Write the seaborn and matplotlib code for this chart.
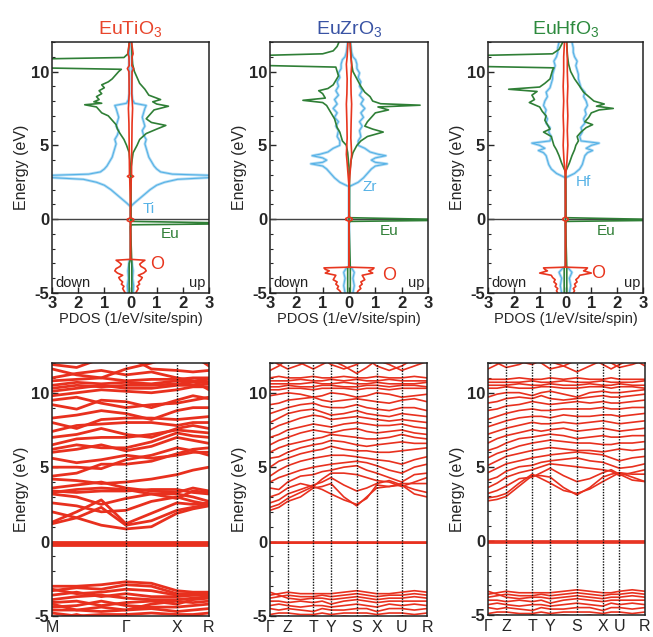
import numpy as np
import pandas as pd
import matplotlib.pyplot as plt
import seaborn as sns
from matplotlib.ticker import MultipleLocator

sns.set_theme(style="ticks")
plt.rcParams['font.family'] = ['Liberation Sans', 'DejaVu Sans']
plt.rcParams['mathtext.default'] = 'regular'
plt.rcParams['axes.unicode_minus'] = False

RED = '#e8361f'
GREEN = '#2f7f36'
BLUE = '#56b2e6'
BLUE_HALO = '#b3dcf4'
BAND_RED = '#e8301e'

titles = ['EuTiO$_3$', 'EuZrO$_3$', 'EuHfO$_3$']
title_colors = ['#e8452c', '#3953a4', '#2d8a3e']
metal_names = ['Ti', 'Zr', 'Hf']

# ---------------- PDOS (top row), widths in 1/eV/site/spin ----------------
# EuTiO3
ti_E = [-5.0, -4.5, -4.0, -3.5, -3.0, -2.8, -2.7, 0.85, 1.1, 1.4, 1.7, 2.0, 2.3, 2.5, 2.7, 2.85,
        2.95, 3.05, 3.2, 3.4, 3.6, 3.9, 4.2, 4.5, 4.8, 5.1, 5.4, 5.7, 6.0, 6.3, 6.6, 6.9, 7.2,
        7.5, 7.7, 7.85, 8.1, 8.5, 9.5, 10.5, 11.5, 12.0]
ti_w = [0.1, 0.12, 0.08, 0.1, 0.06, 0.05, 0.0, 0.0, 0.15, 0.35, 0.55, 0.75, 1.0, 1.3, 1.8, 3.4,
        3.4, 1.6, 1.15, 1.0, 0.9, 0.8, 0.7, 0.65, 0.6, 0.55, 0.6, 0.5, 0.45, 0.55, 0.5, 0.45, 0.5,
        0.55, 0.6, 0.15, 0.08, 0.05, 0.04, 0.06, 0.04, 0.03]
eut_dn_E = [-5.0, -3.0, -2.7, 3.5, 4.5, 5.0, 5.4, 5.8, 6.1, 6.4, 6.7, 7.0, 7.2, 7.4, 7.6, 7.75,
            7.85, 7.95, 8.1, 8.3, 8.5, 8.7, 8.9, 9.1, 9.3, 9.5, 9.8, 10.0, 10.15, 10.25, 10.85,
            10.95, 11.2, 11.6, 12.0]
eut_dn_w = [0.05, 0.05, 0.0, 0.0, 0.05, 0.15, 0.25, 0.4, 0.5, 0.55, 0.7, 0.85, 1.1, 1.2, 1.3, 1.75,
            1.1, 1.4, 1.2, 1.3, 1.1, 1.2, 1.0, 1.1, 0.85, 0.7, 0.55, 0.45, 0.35, 3.5, 3.5,
            0.25, 0.1, 0.07, 0.05]
eut_up_E = [-5.0, -3.0, -0.5, -0.38, -0.32, -0.25, -0.15, 0.2, 3.5, 4.5, 5.0, 5.4, 5.8, 6.1, 6.35,
            6.55, 6.8, 7.1, 7.4, 7.65, 7.8, 7.95, 8.1, 8.4, 8.8, 9.2, 9.6, 10.0, 10.5, 11.0, 11.5, 12.0]
eut_up_w = [0.05, 0.05, 0.0, 0.05, 3.5, 3.5, 0.05, 0.02, 0.02, 0.1, 0.25, 0.35, 0.6, 1.0, 1.35,
            0.8, 0.6, 0.75, 0.9, 1.45, 1.0, 0.85, 1.15, 0.7, 0.55, 0.35, 0.25, 0.15, 0.08, 0.06, 0.05, 0.04]
ot_E = [-5.0, -4.85, -4.7, -4.55, -4.4, -4.25, -4.1, -3.95, -3.8, -3.65, -3.5, -3.35, -3.2, -3.05,
        -2.9, -2.78, -2.72, -0.2, -0.1, 0.0, 0.1, 0.9, 2.8, 2.9, 3.0, 3.3, 5.0, 6.5, 7.5, 8.5, 10.0,
        10.2, 10.4, 11.0, 11.2, 12.0]
ot_w = [0.2, 0.25, 0.3, 0.25, 0.35, 0.3, 0.4, 0.45, 0.3, 0.5, 0.6, 0.55, 0.4, 0.35, 0.45, 0.55,
        0.0, 0.0, 0.12, 0.12, 0.0, 0.0, 0.03, 0.12, 0.04, 0.04, 0.05, 0.06, 0.08, 0.05, 0.06, 0.12,
        0.05, 0.06, 0.1, 0.04]

# EuZrO3
zr_E = [-5.0, -4.5, -4.0, -3.6, -3.3, -3.2, 2.2, 2.5, 2.8, 3.1, 3.4, 3.6, 3.75, 3.85, 4.0, 4.15,
        4.3, 4.4, 4.55, 4.8, 5.0, 5.3, 5.6, 6.0, 6.3, 6.6, 6.9, 7.2, 7.5, 7.8, 8.1, 8.4, 8.7, 9.0,
        9.3, 9.6, 9.9, 10.2, 10.5, 10.8, 11.0, 11.3, 12.0]
zr_w = [0.15, 0.2, 0.15, 0.2, 0.1, 0.0, 0.0, 0.35, 0.55, 0.7, 0.85, 1.0, 1.45, 1.0, 0.85, 1.0,
        1.4, 1.1, 0.8, 0.6, 0.35, 0.35, 0.45, 0.4, 0.5, 0.4, 0.55, 0.45, 0.6, 0.45, 0.55, 0.4, 0.5,
        0.4, 0.45, 0.35, 0.4, 0.3, 0.3, 0.25, 0.15, 0.1, 0.05]
euz_dn_E = [-5.0, -3.3, -3.2, 3.5, 4.5, 5.0, 5.3, 5.6, 5.9, 6.2, 6.5, 6.8, 7.1, 7.4, 7.7, 7.9,
            8.05, 8.2, 8.5, 8.7, 8.85, 9.1, 9.4, 9.7, 10.0, 10.3, 10.42, 11.08, 11.2, 11.4, 11.7, 12.0]
euz_dn_w = [0.05, 0.05, 0.0, 0.0, 0.05, 0.1, 0.25, 0.3, 0.35, 0.45, 0.5, 0.55, 0.65, 0.75, 0.85,
            1.0, 1.75, 0.9, 1.0, 1.15, 0.8, 0.6, 0.5, 0.4, 0.45, 0.5, 3.5, 3.5, 1.0, 0.6, 0.45, 0.38]
euz_up_E = [-5.0, -3.3, -0.25, -0.15, -0.08, -0.02, 0.1, 3.0, 4.0, 4.5, 5.0, 5.3, 5.6, 5.9, 6.1,
            6.3, 6.6, 6.9, 7.2, 7.4, 7.6, 7.72, 7.82, 8.0, 8.3, 8.6, 9.0, 9.5, 10.0, 10.5, 11.0, 11.5, 12.0]
euz_up_w = [0.05, 0.05, 0.0, 0.05, 3.5, 3.5, 0.02, 0.02, 0.08, 0.15, 0.3, 0.45, 0.7, 1.3, 0.9,
            0.6, 0.7, 0.85, 1.0, 1.5, 1.1, 2.7, 1.2, 0.9, 0.8, 0.6, 0.45, 0.3, 0.15, 0.1, 0.08, 0.06, 0.05]
oz_E = [-5.0, -4.85, -4.7, -4.55, -4.4, -4.25, -4.1, -3.95, -3.8, -3.65, -3.5, -3.4, -3.3, -3.25,
        -0.15, -0.05, 0.05, 0.15, 2.2, 3.8, 4.4, 5.5, 6.5, 7.8, 8.5, 9.5, 10.5, 11.0, 12.0]
oz_w = [0.3, 0.35, 0.45, 0.4, 0.5, 0.45, 0.6, 0.55, 0.5, 0.9, 0.75, 0.9, 0.95, 0.0, 0.0, 0.12,
        0.12, 0.0, 0.0, 0.07, 0.1, 0.07, 0.08, 0.1, 0.08, 0.07, 0.1, 0.07, 0.04]

# EuHfO3
hf_E = [-5.0, -4.5, -4.0, -3.6, -3.3, -3.2, 2.8, 3.1, 3.4, 3.7, 4.0, 4.3, 4.5, 4.65, 4.8, 5.0,
        5.15, 5.3, 5.6, 5.9, 6.2, 6.5, 6.8, 7.1, 7.4, 7.7, 8.0, 8.3, 8.6, 8.9, 9.2, 9.5, 9.8, 10.1,
        10.4, 10.7, 11.0, 11.3, 11.6, 12.0]
hf_w = [0.15, 0.2, 0.15, 0.25, 0.1, 0.0, 0.0, 0.35, 0.55, 0.65, 0.7, 0.75, 0.85, 1.05, 0.8, 1.0,
        1.3, 0.6, 0.55, 0.65, 0.6, 0.75, 0.7, 0.8, 0.75, 0.85, 0.8, 0.7, 0.75, 0.6, 0.55, 0.5, 0.5,
        0.45, 0.4, 0.45, 0.35, 0.3, 0.3, 0.25]
euh_dn_E = [-5.0, -3.3, -3.2, 3.2, 3.8, 4.3, 4.7, 5.0, 5.3, 5.6, 5.9, 6.1, 6.4, 6.7, 7.0, 7.3, 7.6,
            7.9, 8.1, 8.4, 8.65, 8.8, 8.95, 9.2, 9.5, 9.8, 10.1, 10.25, 10.35, 11.08, 11.2, 11.5, 12.0]
euh_dn_w = [0.05, 0.05, 0.0, 0.0, 0.15, 0.25, 0.35, 0.45, 0.5, 0.55, 0.85, 0.6, 0.7, 0.8, 0.75,
            0.9, 1.0, 1.4, 1.2, 1.3, 1.1, 2.2, 1.0, 0.8, 0.6, 0.55, 0.5, 0.45, 3.5, 3.5, 0.5, 0.25, 0.1]
euh_up_E = [-5.0, -3.3, -0.25, -0.15, -0.08, -0.02, 0.1, 3.2, 3.8, 4.3, 4.7, 5.0, 5.3, 5.6, 5.9,
            6.2, 6.4, 6.6, 6.9, 7.2, 7.4, 7.5, 7.65, 7.8, 8.0, 8.3, 8.6, 9.0, 9.5, 10.0, 10.5, 11.0, 11.5, 12.0]
euh_up_w = [0.05, 0.05, 0.0, 0.05, 3.5, 3.5, 0.02, 0.0, 0.15, 0.25, 0.35, 0.4, 0.5, 0.45, 0.6,
            0.8, 1.05, 0.75, 0.9, 1.0, 1.3, 1.85, 1.2, 1.5, 1.1, 0.9, 0.7, 0.55, 0.35, 0.2, 0.12, 0.08, 0.06, 0.05]
oh_E = [-5.0, -4.85, -4.7, -4.55, -4.4, -4.25, -4.1, -3.95, -3.8, -3.65, -3.5, -3.4, -3.3, -3.25,
        -0.15, -0.05, 0.05, 0.15, 2.8, 4.0, 5.0, 6.0, 7.0, 8.0, 9.0, 10.0, 11.0, 12.0]
oh_w = [0.3, 0.35, 0.3, 0.4, 0.35, 0.45, 0.4, 0.5, 0.55, 1.0, 0.7, 0.8, 0.85, 0.0, 0.0, 0.1,
        0.1, 0.0, 0.0, 0.06, 0.09, 0.07, 0.09, 0.07, 0.09, 0.07, 0.07, 0.04]

# label positions (x in PDOS units, E in eV)
metal_label_xy = [(0.45, 0.7), (0.5, 2.2), (0.4, 2.5)]
eu_label_xy = [(1.15, -1.0), (1.15, -0.8), (1.2, -0.8)]
o_label_xy = [(0.75, -3.1), (1.25, -3.8), (1.0, -3.7)]

# ---------------- band structures (bottom row) ----------------
ti_kpts = [0, 1.45, 2.45, 3.08]
ti_klabels = ['M', 'Γ', 'X', 'R']
ti_ksub = [3, 2, 2]
# values at M, 1/3, 2/3, Γ, mid, X, mid, R
ti_bands = [
    [2.0, 1.6, 1.1, 0.85, 1.0, 1.9, 2.2, 2.4],
    [1.2, 1.6, 2.3, 1.1, 1.4, 2.1, 2.3, 2.5],
    [1.3, 2.0, 2.8, 1.2, 1.9, 2.6, 2.5, 2.6],
    [2.6, 2.4, 2.0, 2.1, 2.7, 3.0, 2.7, 2.5],
    [3.2, 3.0, 2.5, 2.9, 3.2, 3.2, 3.0, 2.7],
    [3.4, 3.3, 3.4, 3.4, 3.5, 3.5, 3.3, 3.2],
    [3.3, 3.5, 3.6, 3.5, 3.2, 2.9, 3.4, 3.3],
    [3.6, 3.8, 4.0, 3.6, 3.4, 3.3, 3.6, 3.4],
    [4.2, 4.1, 3.9, 4.0, 4.2, 4.5, 4.8, 5.0],
    [4.4, 4.6, 5.2, 5.2, 5.4, 5.9, 6.2, 6.3],
    [5.0, 5.0, 4.9, 5.5, 5.8, 6.3, 6.1, 5.8],
    [5.6, 5.3, 5.5, 5.8, 5.6, 5.8, 6.0, 6.0],
    [6.0, 6.2, 6.5, 6.1, 6.4, 7.0, 6.8, 6.6],
    [6.2, 6.5, 6.3, 6.3, 6.7, 7.3, 7.1, 7.0],
    [6.5, 6.9, 7.0, 7.0, 7.2, 7.5, 7.4, 7.3],
    [7.0, 7.2, 7.6, 7.2, 7.0, 7.6, 7.8, 7.6],
    [7.4, 7.8, 7.9, 8.0, 8.0, 7.8, 8.0, 8.0],
    [8.0, 7.6, 8.2, 8.3, 8.3, 8.2, 8.3, 8.4],
    [8.3, 8.5, 8.8, 8.6, 8.2, 8.8, 9.0, 9.0],
    [9.5, 9.7, 9.3, 9.0, 9.2, 9.3, 9.5, 9.7],
    [9.2, 8.9, 9.5, 9.4, 9.0, 9.5, 9.8, 9.6],
    [9.8, 10.0, 10.2, 10.1, 10.0, 10.2, 10.4, 10.4],
    [10.1, 10.3, 10.5, 10.3, 10.3, 10.5, 10.5, 10.6],
    [10.3, 10.5, 10.4, 10.5, 10.5, 10.6, 10.7, 10.7],
    [10.5, 10.7, 10.6, 10.7, 10.6, 10.8, 10.8, 10.9],
    [10.8, 10.9, 11.0, 10.8, 10.9, 10.9, 11.0, 11.0],
    [11.0, 11.3, 11.5, 11.2, 11.4, 11.0, 10.8, 10.2],
    [11.6, 11.2, 11.0, 11.6, 12.0, 12.5, 12.5, 11.8],
    [11.9, 11.7, 12.3, 12.5, 11.6, 11.5, 11.4, 11.5],
    [-3.0, -3.0, -2.9, -2.7, -2.8, -3.3, -3.4, -3.4],
    [-3.3, -3.1, -3.2, -2.9, -3.0, -3.5, -3.5, -3.5],
    [-3.2, -3.5, -3.4, -3.2, -3.3, -3.6, -3.6, -3.5],
    [-3.6, -3.4, -3.7, -3.5, -3.7, -3.7, -3.6, -3.6],
    [-3.9, -3.7, -3.6, -3.8, -3.9, -3.9, -3.8, -3.7],
    [-4.1, -4.0, -4.3, -4.1, -4.0, -4.2, -3.9, -3.8],
    [-4.4, -4.3, -4.0, -4.3, -4.4, -4.4, -4.3, -4.2],
    [-4.2, -4.6, -4.4, -4.6, -4.2, -4.0, -4.1, -4.0],
    [-4.6, -4.6, -4.7, -4.6, -4.5, -4.7, -4.6, -4.5],
    [-4.8, -5.0, -4.9, -4.9, -4.8, -4.9, -4.9, -4.8],
    [-5.2, -4.9, -5.3, -5.3, -5.1, -5.2, -5.0, -5.1],
]
ti_f_levels = [-0.03, -0.09, -0.15, -0.21]

ortho_klabels = ['Γ', 'Z', 'T', 'Y', 'S', 'X', 'U', 'R']
ortho_ksub = [2, 2, 2, 2, 2, 2, 2]
zr_kpts = [0, 17.7, 43.3, 61.0, 86.7, 106.7, 131.7, 157.0]
# values at Γ, ., Z, ., T, ., Y, ., S, ., X, ., U, ., R
zr_bands = [
    [2.1, 2.3, 2.7, 3.0, 3.6, 3.7, 3.9, 3.0, 2.4, 3.0, 3.6, 3.7, 3.8, 3.5, 3.3],
    [2.3, 2.5, 2.9, 3.3, 3.7, 3.5, 3.2, 2.8, 2.5, 2.9, 3.8, 3.7, 3.9, 3.9, 3.9],
    [2.6, 2.8, 3.2, 3.5, 3.8, 4.0, 4.3, 3.8, 3.4, 3.6, 3.9, 4.1, 3.8, 3.2, 3.0],
    [3.0, 3.2, 3.6, 3.9, 3.7, 4.2, 4.6, 4.6, 4.5, 4.3, 4.1, 4.0, 3.7, 4.0, 4.3],
    [3.6, 3.5, 4.0, 4.4, 4.5, 4.7, 4.8, 5.0, 5.1, 4.8, 4.6, 4.3, 4.0, 4.5, 4.6],
    [4.0, 4.3, 4.5, 4.8, 5.0, 5.1, 5.2, 5.3, 5.4, 5.3, 5.1, 4.8, 4.6, 5.0, 5.2],
    [4.4, 4.8, 5.1, 5.4, 5.6, 5.7, 5.8, 5.8, 5.7, 5.6, 5.5, 5.4, 5.2, 5.5, 5.7],
    [5.0, 5.4, 5.6, 5.9, 6.1, 6.2, 6.4, 6.2, 6.1, 6.1, 6.0, 6.0, 6.1, 6.2, 6.3],
    [5.6, 5.7, 6.0, 6.3, 6.5, 6.6, 6.8, 6.7, 6.5, 6.4, 6.5, 6.6, 6.7, 6.6, 6.6],
    [6.0, 6.3, 6.5, 6.7, 6.9, 7.0, 7.2, 7.1, 7.0, 6.9, 6.9, 7.0, 7.2, 7.0, 6.9],
    [6.5, 6.8, 7.0, 7.3, 7.5, 7.4, 7.3, 7.5, 7.6, 7.4, 7.3, 7.4, 7.5, 7.3, 7.2],
    [7.0, 7.2, 7.5, 7.7, 7.9, 7.8, 7.7, 7.9, 8.0, 7.9, 7.8, 7.8, 7.9, 7.7, 7.6],
    [7.5, 7.8, 8.0, 8.3, 8.5, 8.4, 8.2, 8.3, 8.4, 8.3, 8.2, 8.1, 8.2, 8.1, 8.0],
    [8.0, 8.3, 8.6, 8.8, 8.9, 8.7, 8.5, 8.6, 8.8, 8.6, 8.5, 8.4, 8.6, 8.5, 8.4],
    [8.6, 8.8, 9.0, 9.2, 9.3, 9.1, 9.0, 9.0, 9.2, 9.0, 8.9, 8.8, 9.0, 9.0, 8.8],
    [9.2, 9.3, 9.5, 9.6, 9.7, 9.5, 9.4, 9.5, 9.6, 9.5, 9.4, 9.3, 9.5, 9.6, 9.4],
    [9.8, 9.9, 10.0, 9.9, 9.7, 9.8, 10.0, 9.9, 9.7, 9.8, 10.0, 9.9, 9.7, 9.8, 9.9],
    [10.2, 10.2, 10.3, 10.3, 10.2, 10.3, 10.3, 10.3, 10.2, 10.3, 10.3, 10.2, 10.3, 10.3, 10.3],
    [10.4, 10.4, 10.5, 10.4, 10.4, 10.5, 10.5, 10.4, 10.4, 10.5, 10.5, 10.4, 10.5, 10.5, 10.4],
    [10.6, 10.6, 10.6, 10.6, 10.7, 10.6, 10.6, 10.7, 10.6, 10.6, 10.7, 10.6, 10.6, 10.6, 10.7],
    [10.8, 10.8, 10.8, 10.9, 10.8, 10.8, 10.9, 10.8, 10.9, 10.8, 10.8, 10.9, 10.8, 10.8, 10.8],
    [11.0, 11.1, 11.0, 11.0, 11.1, 11.0, 11.0, 11.1, 11.0, 11.0, 11.1, 11.0, 11.0, 11.1, 11.0],
    [11.5, 11.8, 12.3, 12.0, 11.6, 11.9, 12.2, 11.8, 11.3, 11.7, 12.2, 11.9, 11.5, 11.8, 12.1],
    [12.2, 11.9, 11.6, 11.9, 12.4, 12.3, 11.9, 11.6, 11.9, 12.3, 11.8, 11.5, 11.8, 12.3, 12.5],
    [-3.6, -3.5, -3.4, -3.5, -3.5, -3.5, -3.5, -3.4, -3.3, -3.4, -3.5, -3.5, -3.4, -3.3, -3.4],
    [-3.8, -3.7, -3.6, -3.7, -3.7, -3.6, -3.7, -3.6, -3.5, -3.6, -3.7, -3.6, -3.6, -3.5, -3.6],
    [-3.4, -3.6, -3.8, -3.9, -3.8, -3.8, -3.9, -3.8, -3.7, -3.8, -3.9, -3.8, -3.8, -3.7, -3.8],
    [-4.0, -4.0, -4.1, -4.0, -4.1, -4.0, -4.2, -4.0, -3.9, -4.0, -4.1, -4.0, -4.0, -4.0, -4.0],
    [-4.3, -4.2, -4.3, -4.4, -4.3, -4.3, -4.4, -4.3, -4.2, -4.3, -4.4, -4.2, -4.3, -4.2, -4.3],
    [-4.5, -4.6, -4.5, -4.6, -4.7, -4.5, -4.6, -4.6, -4.5, -4.5, -4.7, -4.5, -4.5, -4.6, -4.5],
    [-4.9, -4.8, -4.8, -4.9, -4.9, -4.8, -4.9, -4.8, -4.8, -4.8, -4.9, -4.8, -4.8, -4.9, -4.8],
    [-5.2, -5.0, -5.1, -5.2, -5.0, -5.1, -5.2, -5.0, -5.1, -5.0, -5.2, -5.1, -5.0, -5.1, -5.2],
]
zr_f_levels = [-0.02, -0.07, -0.12]

hf_kpts = [0, 18.3, 44.3, 62.3, 89.0, 115.0, 131.7, 157.3]
hf_bands = [
    [2.7, 2.8, 3.0, 3.7, 4.4, 4.4, 4.3, 3.6, 3.1, 3.6, 4.3, 4.5, 4.6, 4.3, 4.0],
    [2.9, 3.0, 3.2, 3.9, 4.5, 4.2, 3.9, 3.4, 3.2, 3.5, 4.0, 4.3, 4.6, 4.5, 4.5],
    [3.2, 3.4, 3.7, 4.2, 4.3, 4.6, 4.9, 4.4, 4.0, 4.2, 4.6, 4.8, 4.5, 4.1, 4.0],
    [3.6, 3.9, 4.3, 4.6, 4.8, 5.0, 5.2, 5.1, 5.0, 4.9, 4.8, 4.7, 4.4, 4.6, 4.8],
    [4.1, 4.3, 4.7, 5.0, 5.1, 5.3, 5.4, 5.5, 5.6, 5.4, 5.3, 5.1, 4.9, 5.0, 5.2],
    [4.6, 4.9, 5.2, 5.4, 5.6, 5.7, 5.8, 5.9, 6.0, 5.9, 5.8, 5.6, 5.4, 5.6, 5.7],
    [5.1, 5.4, 5.7, 5.9, 6.1, 6.2, 6.3, 6.2, 6.1, 6.1, 6.0, 6.1, 6.2, 6.1, 6.2],
    [5.6, 5.9, 6.1, 6.4, 6.6, 6.7, 6.8, 6.7, 6.6, 6.6, 6.5, 6.5, 6.6, 6.6, 6.7],
    [6.1, 6.3, 6.6, 6.9, 7.0, 7.1, 7.2, 7.1, 6.9, 7.0, 7.1, 7.0, 7.0, 7.1, 7.1],
    [6.6, 6.9, 7.1, 7.3, 7.5, 7.4, 7.5, 7.6, 7.4, 7.5, 7.6, 7.5, 7.4, 7.5, 7.6],
    [7.2, 7.4, 7.6, 7.8, 8.0, 7.9, 7.9, 8.0, 7.9, 8.0, 8.1, 8.0, 7.9, 8.0, 8.1],
    [7.7, 7.9, 8.1, 8.3, 8.4, 8.4, 8.3, 8.5, 8.4, 8.4, 8.5, 8.5, 8.4, 8.5, 8.6],
    [8.2, 8.4, 8.6, 8.8, 8.9, 8.8, 8.8, 8.9, 8.9, 8.9, 9.0, 8.9, 8.9, 9.0, 9.0],
    [8.8, 8.9, 9.1, 9.2, 9.4, 9.3, 9.2, 9.3, 9.4, 9.3, 9.4, 9.3, 9.3, 9.4, 9.5],
    [9.3, 9.4, 9.6, 9.7, 9.6, 9.8, 9.6, 9.5, 9.6, 9.7, 9.8, 9.7, 9.7, 9.8, 9.9],
    [9.7, 9.9, 10.0, 10.0, 9.8, 10.0, 10.1, 9.9, 9.7, 10.0, 10.1, 10.0, 10.0, 10.1, 10.2],
    [10.3, 10.3, 10.4, 10.3, 10.3, 10.4, 10.4, 10.3, 10.3, 10.4, 10.4, 10.3, 10.4, 10.4, 10.3],
    [10.5, 10.5, 10.5, 10.6, 10.5, 10.5, 10.6, 10.5, 10.5, 10.6, 10.5, 10.5, 10.6, 10.5, 10.5],
    [10.7, 10.7, 10.7, 10.7, 10.8, 10.7, 10.7, 10.8, 10.7, 10.7, 10.8, 10.7, 10.7, 10.7, 10.8],
    [10.9, 10.9, 10.9, 11.0, 10.9, 10.9, 11.0, 10.9, 11.0, 10.9, 10.9, 11.0, 10.9, 10.9, 10.9],
    [11.6, 11.9, 12.3, 12.1, 11.9, 12.2, 12.1, 11.8, 11.4, 11.8, 12.2, 12.0, 11.7, 11.9, 12.2],
    [12.3, 12.0, 11.7, 11.9, 12.3, 12.0, 11.6, 11.8, 12.2, 12.4, 11.9, 11.6, 11.9, 12.3, 11.8],
    [-3.6, -3.5, -3.4, -3.5, -3.5, -3.5, -3.5, -3.4, -3.3, -3.4, -3.5, -3.5, -3.4, -3.3, -3.4],
    [-3.8, -3.7, -3.6, -3.7, -3.7, -3.6, -3.7, -3.6, -3.5, -3.6, -3.7, -3.6, -3.6, -3.5, -3.6],
    [-3.4, -3.6, -3.8, -3.9, -3.8, -3.8, -3.9, -3.8, -3.7, -3.8, -3.9, -3.8, -3.8, -3.7, -3.8],
    [-4.0, -4.0, -4.1, -4.0, -4.1, -4.0, -4.2, -4.0, -3.9, -4.0, -4.1, -4.0, -4.0, -4.0, -4.0],
    [-4.3, -4.2, -4.3, -4.4, -4.3, -4.3, -4.4, -4.3, -4.2, -4.3, -4.4, -4.2, -4.3, -4.2, -4.3],
    [-4.5, -4.6, -4.5, -4.6, -4.7, -4.5, -4.6, -4.6, -4.5, -4.5, -4.7, -4.5, -4.5, -4.6, -4.5],
    [-4.9, -4.8, -4.8, -4.9, -4.9, -4.8, -4.9, -4.8, -4.8, -4.8, -4.9, -4.8, -4.8, -4.9, -4.8],
    [-5.2, -5.0, -5.1, -5.2, -5.0, -5.1, -5.2, -5.0, -5.1, -5.0, -5.2, -5.1, -5.0, -5.1, -5.2],
]
hf_f_levels = [-0.02, -0.07, -0.12]


def pdos_frame(metal_E, metal_w, eu_dn_E, eu_dn_w, eu_up_E, eu_up_w, o_E, o_w):
    parts = [('M_dn', metal_E, metal_w, -1), ('M_up', metal_E, metal_w, 1),
             ('Eu_dn', eu_dn_E, eu_dn_w, -1), ('Eu_up', eu_up_E, eu_up_w, 1),
             ('O_dn', o_E, o_w, -1), ('O_up', o_E, o_w, 1)]
    rows = []
    for name, E, w, sign in parts:
        for e, v in zip(E, w):
            rows.append({'E': e, 'pdos': sign * v, 'curve': name})
    return pd.DataFrame(rows)


def subdivide(kpts, nsub):
    nodes = [kpts[0]]
    for a, b, n in zip(kpts[:-1], kpts[1:], nsub):
        nodes += list(np.linspace(a, b, n + 1)[1:])
    return nodes


def band_frame(nodes, bands, f_levels):
    rows = []
    for i, b in enumerate(bands):
        for k, e in zip(nodes, b):
            rows.append({'k': k, 'E': e, 'band': i})
    for j, lev in enumerate(f_levels):
        for k in (nodes[0], nodes[-1]):
            rows.append({'k': k, 'E': lev, 'band': 1000 + j})
    return pd.DataFrame(rows)


def style_energy_axis(ax):
    ax.set_ylim(-5, 12)
    ax.set_yticks([-5, 0, 5, 10])
    ax.yaxis.set_minor_locator(MultipleLocator(1))
    ax.tick_params(axis='y', which='major', direction='in', length=4, width=1, labelsize=12,
                   left=True, right=False, pad=2)
    ax.tick_params(axis='y', which='minor', direction='in', length=2.5, width=0.8, left=True)
    for lab in ax.get_yticklabels():
        lab.set_fontweight('bold')
    ax.set_ylabel('Energy (eV)', fontsize=11.5, labelpad=1)
    for sp in ax.spines.values():
        sp.set_linewidth(1.1)
        sp.set_color('#222222')
        sp.set_visible(True)


W, H = 653, 637
fig = plt.figure(figsize=(W / 100, H / 100), dpi=100)
top_boxes = [(52, 42, 157, 251), (270, 42, 158, 251), (488, 42, 155, 251)]
bot_boxes = [(52, 363, 157, 253), (270, 363, 157, 253), (488, 363, 157, 252)]


def make_ax(box):
    x, y, w, h = box
    return fig.add_axes([x / W, 1 - (y + h) / H, w / W, h / H])


pdos_sets = [
    pdos_frame(ti_E, ti_w, eut_dn_E, eut_dn_w, eut_up_E, eut_up_w, ot_E, ot_w),
    pdos_frame(zr_E, zr_w, euz_dn_E, euz_dn_w, euz_up_E, euz_up_w, oz_E, oz_w),
    pdos_frame(hf_E, hf_w, euh_dn_E, euh_dn_w, euh_up_E, euh_up_w, oh_E, oh_w),
]

for i, df in enumerate(pdos_sets):
    ax = make_ax(top_boxes[i])
    ax.axhline(0, color='#444444', lw=1.0, zorder=1)
    blue_df = df[df['curve'].str.startswith('M')]
    sns.lineplot(data=blue_df, x='pdos', y='E', units='curve', estimator=None, orient='y',
                 color=BLUE_HALO, lw=2.0, ax=ax, legend=False)
    sns.lineplot(data=blue_df, x='pdos', y='E', units='curve', estimator=None, orient='y',
                 color=BLUE, lw=0.8, ax=ax, legend=False)
    rest = df[~df['curve'].str.startswith('M')]
    sns.lineplot(data=rest, x='pdos', y='E', hue='curve',
                 hue_order=['Eu_dn', 'Eu_up', 'O_dn', 'O_up'],
                 palette={'Eu_dn': GREEN, 'Eu_up': GREEN, 'O_dn': RED, 'O_up': RED},
                 estimator=None, orient='y', lw=1.2, ax=ax, legend=False)
    ax.set_xlim(-3, 3)
    ax.set_xticks(range(-3, 4))
    ax.set_xticklabels([str(abs(t)) for t in range(-3, 4)])
    ax.tick_params(axis='x', direction='in', length=4, width=1, labelsize=12, pad=2)
    for lab in ax.get_xticklabels():
        lab.set_fontweight('bold')
    ax.set_xlabel('PDOS (1/eV/site/spin)', fontsize=10.5, labelpad=1)
    style_energy_axis(ax)
    ax.set_title(titles[i], color=title_colors[i], fontsize=14, pad=6)
    mx, my = metal_label_xy[i]
    ax.text(mx, my, metal_names[i], color=BLUE, fontsize=11, va='center', ha='left')
    ex, ey = eu_label_xy[i]
    ax.text(ex, ey, 'Eu', color=GREEN, fontsize=11, va='center', ha='left')
    ox, oy = o_label_xy[i]
    ax.text(ox, oy, 'O', color=RED, fontsize=13, va='center', ha='left')
    ax.text(-2.88, -4.3, 'down', fontsize=10.5, va='center', ha='left', color='#222222')
    ax.text(2.88, -4.3, 'up', fontsize=10.5, va='center', ha='right', color='#222222')

band_sets = [
    (ti_kpts, ti_klabels, ti_ksub, ti_bands, ti_f_levels, 2.0),
    (zr_kpts, ortho_klabels, ortho_ksub, zr_bands, zr_f_levels, 1.2),
    (hf_kpts, ortho_klabels, ortho_ksub, hf_bands, hf_f_levels, 1.2),
]

for i, (kpts, klabels, ksub, bands, flev, lw) in enumerate(band_sets):
    ax = make_ax(bot_boxes[i])
    nodes = subdivide(kpts, ksub)
    bdf = band_frame(nodes, bands, flev)
    sns.lineplot(data=bdf, x='k', y='E', units='band', estimator=None, sort=False,
                 color=BAND_RED, lw=lw, ax=ax, legend=False)
    for k in kpts[1:-1]:
        ax.axvline(k, color='#111111', ls=(0, (1, 1)), lw=1.0, zorder=3)
    ax.set_xlim(kpts[0], kpts[-1])
    ax.set_xticks(kpts)
    ax.set_xticklabels(klabels)
    ax.tick_params(axis='x', length=0, labelsize=11.5, pad=3)
    ax.set_xlabel('')
    style_energy_axis(ax)

fig.savefig('out.png', dpi=100)
